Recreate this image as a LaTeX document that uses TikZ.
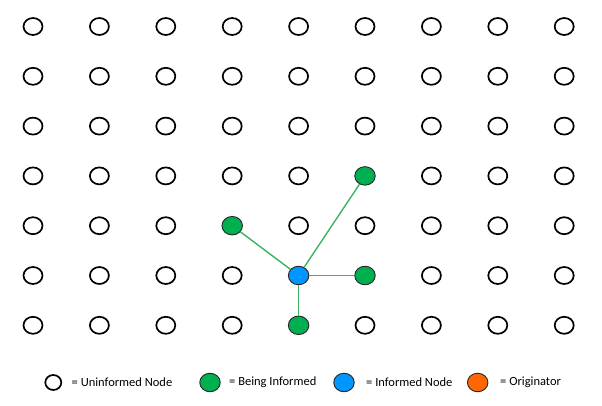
\documentclass[tikz,border=0pt]{standalone}
\usepackage{fontspec}
\setmainfont{Carlito}
\usetikzlibrary{shapes.geometric}
\definecolor{gfill}{RGB}{0,176,80}
\definecolor{bfill}{RGB}{0,150,255}
\definecolor{ofill}{RGB}{255,102,0}
\definecolor{edgegreen}{RGB}{60,180,100}
\tikzset{
  plain/.style={ellipse,draw=black,line width=1.7pt,fill=white,minimum width=19pt,minimum height=17pt,inner sep=0pt},
  colored/.style={ellipse,draw=black!85,line width=0.9pt,minimum width=20.5pt,minimum height=18.5pt,inner sep=0pt},
  greennode/.style={colored,fill=gfill},
  bluenode/.style={colored,fill=bfill},
  orangenode/.style={colored,fill=ofill},
  c-6-4/.style={greennode},
  c-4-5/.style={greennode},
  c-6-6/.style={greennode},
  c-5-7/.style={greennode},
  c-5-6/.style={bluenode},
  link/.style={draw=edgegreen,line width=1.4pt},
  legtext/.style={anchor=west,inner sep=0pt,font=\fontsize{12.5}{14}\selectfont}
}
\begin{document}
\begin{tikzpicture}[x=1pt,y=-1pt]
\useasboundingbox (0,0) rectangle (602,406);
\foreach \i in {1,...,9}{
  \foreach \j in {1,...,7}{
    \node[plain,c-\i-\j/.try] (n-\i-\j) at ({33+66.4*(\i-1)},{26.5+49.8*(\j-1)}) {};
  }
}
\draw[link] (n-5-6) -- (n-6-4);
\draw[link] (n-5-6) -- (n-4-5);
\draw[link] (n-5-6) -- (n-6-6);
\draw[link] (n-5-6) -- (n-5-7);
% legend
\node[plain,minimum width=16pt,minimum height=15pt] (l1) at (53.3,382.5) {};
\node[legtext] (t1) at (71.5,382) {= Uninformed Node};
\node[greennode] (l2) at (210,382.5) {};
\node[legtext] (t2) at (229,382) {= Being Informed};
\node[bluenode] (l3) at (344,382.5) {};
\node[legtext] (t3) at (366,382) {= Informed Node};
\node[orangenode] (l4) at (477.7,382.5) {};
\node[legtext] (t4) at (500,382) {= Originator};
\end{tikzpicture}
\end{document}
